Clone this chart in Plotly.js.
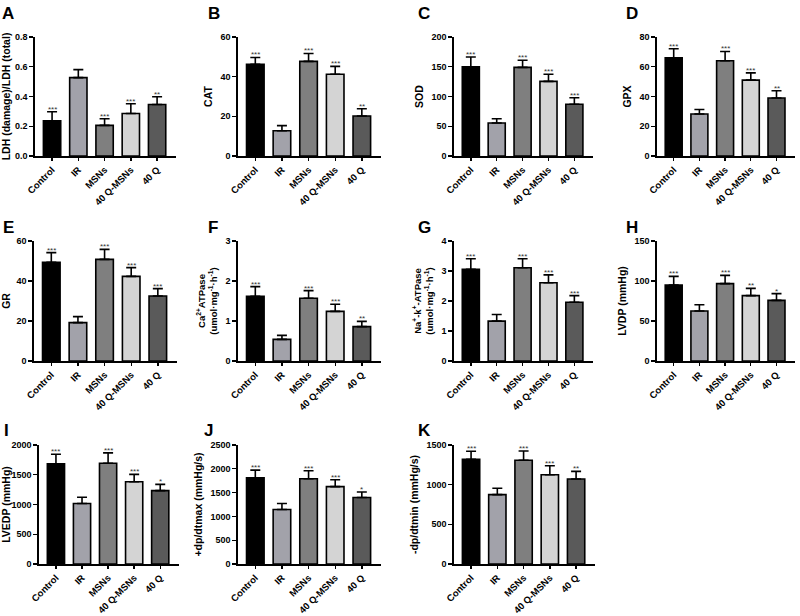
<!DOCTYPE html>
<html>
<head>
<meta charset="utf-8">
<script src="https://cdn.plot.ly/plotly-3.0.1.min.js"></script>
<style>html,body{margin:0;padding:0;background:#fff;}#chart{width:800px;height:616px;}</style>
</head>
<body>
<div id="chart"></div>
<script>
const categories = ['Control', 'IR', 'MSNs', '40 Q-MSNs', '40 Q'];
const barColors = ['#000000', '#a2a2aa', '#7f7f7f', '#d4d4d4', '#5a5a5a'];

// Panel A: LDH (damage)/LDH (total)
const ldhMean = [0.237, 0.527, 0.206, 0.286, 0.346];
const ldhErr = [0.060, 0.054, 0.044, 0.065, 0.052];
const ldhStars = ['***', '', '***', '***', '**'];
// Panel B: CAT
const catMean = [46.2, 12.7, 47.7, 41.2, 20.2];
const catErr = [3.5, 2.6, 4.0, 4.0, 3.6];
const catStars = ['***', '', '***', '***', '**'];
// Panel C: SOD
const sodMean = [150, 55.5, 149, 125.5, 87];
const sodErr = [16.5, 7, 12, 12, 10.8];
const sodStars = ['***', '', '***', '***', '***'];
// Panel D: GPX
const gpxMean = [66, 28.2, 64, 51, 39];
const gpxErr = [6.1, 3.1, 6.3, 4.9, 4.9];
const gpxStars = ['***', '', '***', '***', '**'];
// Panel E: GR
const grMean = [49.3, 19.2, 50.8, 42.3, 32.5];
const grErr = [4.9, 3.0, 5.0, 4.4, 3.7];
const grStars = ['***', '', '***', '***', '***'];
// Panel F: Ca2+ ATPase
const caMean = [1.62, 0.54, 1.57, 1.24, 0.86];
const caErr = [0.24, 0.10, 0.19, 0.18, 0.13];
const caStars = ['***', '', '***', '***', '**'];
// Panel G: Na+-K+-ATPase
const naMean = [3.06, 1.33, 3.11, 2.61, 1.96];
const naErr = [0.35, 0.22, 0.30, 0.26, 0.22];
const naStars = ['***', '', '***', '***', '***'];
// Panel H: LVDP
const lvdpMean = [95, 62.5, 96.7, 81.7, 75.8];
const lvdpErr = [10.8, 7.9, 10.3, 9.1, 8.4];
const lvdpStars = ['***', '', '***', '**', '*'];
// Panel I: LVEDP
const lvedpMean = [1683, 1017, 1694, 1383, 1233];
const lvedpErr = [161, 105, 173, 123, 106];
const lvedpStars = ['***', '', '***', '***', '*'];
// Panel J: +dp/dtmax
const dpmaxMean = [1812, 1146, 1792, 1625, 1396];
const dpmaxErr = [160, 125, 166, 146, 118];
const dpmaxStars = ['***', '', '***', '***', '*'];
// Panel K: -dp/dtmin
const dpminMean = [1321, 875, 1308, 1125, 1071];
const dpminErr = [100, 79, 117, 113, 96];
const dpminStars = ['***', '', '***', '***', '**'];

const panelLetters = ['A','B','C','D','E','F','G','H','I','J','K'];
const yTitles = [
  'LDH (damage)/LDH (total)', 'CAT', 'SOD', 'GPX', 'GR',
  'Ca<sup>2+</sup>ATPase<br>(umol·mg<sup>-1</sup>·h<sup>-1</sup>)',
  'Na<sup>+</sup>-k<sup>+</sup>-ATPase<br>(umol·mg<sup>-1</sup>·h<sup>-1</sup>)',
  'LVDP (mmHg)', 'LVEDP (mmHg)', '+dp/dtmax (mmHg/s)', '-dp/dtmin (mmHg/s)'
];
const yMax = [0.8, 60, 200, 80, 60, 3, 4, 150, 2000, 2500, 1500];
const yDtick = [0.2, 20, 50, 20, 20, 1, 1, 50, 500, 500, 500];

const means = [ldhMean, catMean, sodMean, gpxMean, grMean, caMean, naMean, lvdpMean, lvedpMean, dpmaxMean, dpminMean];
const errs = [ldhErr, catErr, sodErr, gpxErr, grErr, caErr, naErr, lvdpErr, lvedpErr, dpmaxErr, dpminErr];
const stars = [ldhStars, catStars, sodStars, gpxStars, grStars, caStars, naStars, lvdpStars, lvedpStars, dpmaxStars, dpminStars];

const W = 800, H = 616;
// pixel boxes [left, right, top, bottom]
const boxes = [
  [35, 176, 37, 156], [238, 381, 37, 156], [454, 593, 37, 156], [657, 795, 37, 156],
  [34, 177, 241, 361], [238, 381, 241, 361], [454, 593, 241, 361], [657, 795, 241, 361],
  [39, 179, 445, 564], [238, 381, 445, 564], [454, 595, 445, 564]
];
const letterPos = [
  [0, 2], [206, 2], [416, 2], [624, 2],
  [1, 216], [206, 216], [416, 216], [624, 216],
  [2, 419], [202, 419], [416, 419]
];

const FONT = 'Liberation Sans, Arial, sans-serif';
const data = [];
const layout = {
  width: W, height: H,
  margin: {l: 0, r: 0, t: 0, b: 0},
  paper_bgcolor: '#fff', plot_bgcolor: '#fff',
  showlegend: false,
  font: {family: FONT, color: '#000', size: 9, weight: 700},
  annotations: []
};

for (let i = 0; i < 11; i++) {
  const n = i === 0 ? '' : String(i + 1);
  const b = boxes[i];
  data.push({
    type: 'bar',
    x: categories,
    y: means[i],
    xaxis: 'x' + n, yaxis: 'y' + n,
    width: 0.66,
    marker: {color: barColors, line: {color: '#000', width: 1.6}},
    error_y: {type: 'data', array: errs[i], arrayminus: [0,0,0,0,0], symmetric: false,
              color: '#000', thickness: 1.6, width: 5},
    hoverinfo: 'skip'
  });
  layout['xaxis' + n] = {
    domain: [b[0] / W, b[1] / W],
    anchor: 'y' + n,
    type: 'category',
    range: [-0.65, 4.72],
    showline: true, linecolor: '#000', linewidth: 1.6,
    ticks: 'outside', ticklen: 3, tickwidth: 1.4, tickcolor: '#000',
    tickangle: -45,
    tickfont: {family: FONT, size: 9.5, color: '#000', weight: 700},
    showgrid: false, zeroline: false, fixedrange: true
  };
  const twoLine = (i === 5 || i === 6);
  layout['yaxis' + n] = {
    domain: [1 - b[3] / H, 1 - b[2] / H],
    anchor: 'x' + n,
    range: [0, yMax[i]],
    dtick: yDtick[i], tick0: 0,
    tickformat: i === 0 ? '.1f' : '',
    showline: true, linecolor: '#000', linewidth: 1.6,
    ticks: 'outside', ticklen: 4, tickwidth: 1.4, tickcolor: '#000',
    tickfont: {family: FONT, size: 9, color: '#000', weight: 700},
    showgrid: false, zeroline: false, fixedrange: true,
    title: {text: yTitles[i], font: {family: FONT, size: twoLine ? 9.5 : 10.5, color: '#000', weight: 700}, standoff: 6}
  };
  for (let k = 0; k < categories.length; k++) {
    if (!stars[i][k]) continue;
    layout.annotations.push({
      xref: 'x' + n, yref: 'y' + n,
      x: categories[k], y: means[i][k] + errs[i][k],
      text: stars[i][k], showarrow: false,
      xanchor: 'center', yanchor: 'bottom', yshift: -4,
      font: {family: FONT, size: 8, color: '#333', weight: 400}
    });
  }
  layout.annotations.push({
    xref: 'paper', yref: 'paper',
    x: letterPos[i][0] / W, y: 1 - letterPos[i][1] / H,
    xanchor: 'left', yanchor: 'top',
    text: panelLetters[i], showarrow: false,
    font: {family: FONT, size: 17, color: '#000', weight: 700}
  });
}

Plotly.newPlot('chart', data, layout, {displayModeBar: false, staticPlot: true});
</script>
</body>
</html>
